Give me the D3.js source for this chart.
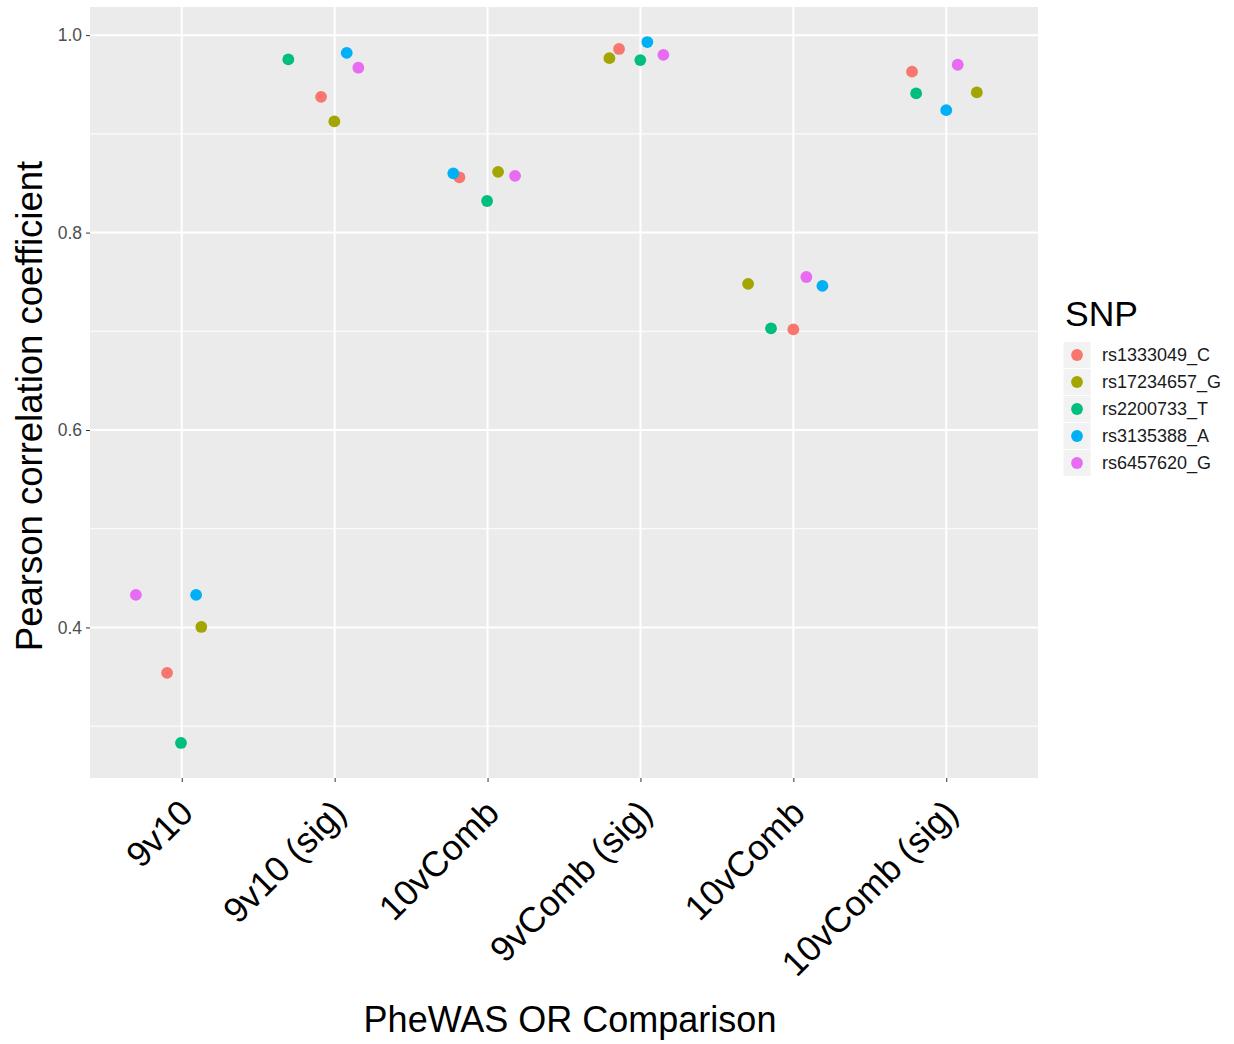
<!DOCTYPE html>
<html>
<head>
<meta charset="utf-8">
<script src="https://cdn.jsdelivr.net/npm/d3@7"></script>
<style>
  html, body { margin: 0; padding: 0; background: #fff; }
  svg { display: block; font-family: "Liberation Sans", Arial, Helvetica, sans-serif; }
</style>
</head>
<body>
<svg id="chart" width="1234" height="1044"></svg>
<script>
// Comparison categories along the x axis (two share the label "10vComb")
const categories = ["9v10", "9v10 (sig)", "10vComb", "9vComb (sig)", "10vComb", "10vComb (sig)"];

// SNPs and their colours (default ggplot hue palette)
const snps = ["rs1333049_C", "rs17234657_G", "rs2200733_T", "rs3135388_A", "rs6457620_G"];
const snpColors = ["#F8766D", "#A3A500", "#00BF7D", "#00B0F6", "#E76BF3"];

// Pearson correlation per SNP, one value per comparison
const rs1333049_C  = [0.354, 0.9375, 0.856, 0.986, 0.702, 0.963];
const rs17234657_G = [0.4005, 0.9126, 0.8615, 0.9767, 0.748, 0.942];
const rs2200733_T  = [0.283, 0.9754, 0.832, 0.9747, 0.703, 0.941];
const rs3135388_A  = [0.433, 0.982, 0.860, 0.993, 0.746, 0.924];
const rs6457620_G  = [0.433, 0.967, 0.8575, 0.980, 0.755, 0.970];

// Horizontal jitter of each point, in category units
const jit_rs1333049_C  = [-0.096, -0.089, -0.184, -0.14, 0.0, -0.224];
const jit_rs17234657_G = [0.128, -0.002, 0.069, -0.203, -0.296, 0.2];
const jit_rs2200733_T  = [-0.005, -0.303, -0.003, -0.001, -0.146, -0.197];
const jit_rs3135388_A  = [0.094, 0.079, -0.224, 0.045, 0.19, 0.0];
const jit_rs6457620_G  = [-0.30, 0.155, 0.18, 0.15, 0.085, 0.075];

const yTicks = [0.4, 0.6, 0.8, 1.0];
const yMinor = [0.3, 0.5, 0.7, 0.9];

const seriesValues = [rs1333049_C, rs17234657_G, rs2200733_T, rs3135388_A, rs6457620_G];
const seriesJitter = [jit_rs1333049_C, jit_rs17234657_G, jit_rs2200733_T, jit_rs3135388_A, jit_rs6457620_G];

const points = [];
snps.forEach((s, si) => {
  seriesValues[si].forEach((v, ci) => {
    points.push({ snp: s, cat: ci, value: v, jitter: seriesJitter[si][ci] });
  });
});

const panel = { left: 90, right: 1038, top: 7, bottom: 778 };

// ggplot-style expansion: 0.6 units on discrete x, 5% on continuous y
const x = d3.scaleLinear()
  .domain([-0.6, categories.length - 1 + 0.6])
  .range([panel.left, panel.right]);

const ext = d3.extent(points, d => d.value);
const pad = (ext[1] - ext[0]) * 0.05;
const y = d3.scaleLinear()
  .domain([ext[0] - pad, ext[1] + pad])
  .range([panel.bottom, panel.top]);

const color = d3.scaleOrdinal().domain(snps).range(snpColors);

const svg = d3.select("#chart");

// Panel background
svg.append("rect")
  .attr("x", panel.left).attr("y", panel.top)
  .attr("width", panel.right - panel.left)
  .attr("height", panel.bottom - panel.top)
  .attr("fill", "#EBEBEB");

const grid = svg.append("g");
// Minor horizontal grid
grid.selectAll("line.minor").data(yMinor).join("line")
  .attr("class", "minor")
  .attr("x1", panel.left).attr("x2", panel.right)
  .attr("y1", d => y(d)).attr("y2", d => y(d))
  .attr("stroke", "#fff").attr("stroke-width", 1);
// Major horizontal grid
grid.selectAll("line.majorY").data(yTicks).join("line")
  .attr("class", "majorY")
  .attr("x1", panel.left).attr("x2", panel.right)
  .attr("y1", d => y(d)).attr("y2", d => y(d))
  .attr("stroke", "#fff").attr("stroke-width", 2);
// Major vertical grid at each category
grid.selectAll("line.majorX").data(d3.range(categories.length)).join("line")
  .attr("class", "majorX")
  .attr("y1", panel.top).attr("y2", panel.bottom)
  .attr("x1", d => x(d)).attr("x2", d => x(d))
  .attr("stroke", "#fff").attr("stroke-width", 2);

// Y axis
const yAxis = svg.append("g")
  .attr("transform", `translate(${panel.left},0)`)
  .call(d3.axisLeft(y).tickValues(yTicks).tickFormat(d3.format(".1f")).tickSize(4).tickPadding(4));
yAxis.select(".domain").remove();
yAxis.selectAll(".tick line").attr("stroke", "#333").attr("stroke-width", 1);
yAxis.selectAll(".tick text")
  .attr("fill", "#4D4D4D")
  .style("font-size", "17.5px")
  .style("font-family", "'Liberation Sans', Arial, sans-serif");

// X axis with labels rotated 45 degrees, right-aligned under each tick
const xAxis = svg.append("g")
  .attr("transform", `translate(0,${panel.bottom})`)
  .call(d3.axisBottom(x).tickValues(d3.range(categories.length)).tickFormat(i => categories[i]).tickSize(4));
xAxis.select(".domain").remove();
xAxis.selectAll(".tick line").attr("stroke", "#333").attr("stroke-width", 1);
xAxis.selectAll(".tick text")
  .attr("fill", "#000")
  .style("font-size", "35.5px")
  .style("font-family", "'Liberation Sans', Arial, sans-serif")
  .attr("text-anchor", "end")
  .attr("x", 0).attr("y", 0)
  .attr("dy", "0.72em")
  .attr("transform", "translate(-5,19) rotate(-45)");

// Points
svg.append("g").selectAll("circle").data(points).join("circle")
  .attr("cx", d => x(d.cat + d.jitter))
  .attr("cy", d => y(d.value))
  .attr("r", 5.9)
  .attr("fill", d => color(d.snp));

// Axis titles
svg.append("text")
  .attr("x", 570).attr("y", 1032)
  .attr("text-anchor", "middle")
  .style("font-size", "36px")
  .attr("fill", "#000")
  .text("PheWAS OR Comparison");

svg.append("text")
  .attr("transform", "translate(42,406) rotate(-90)")
  .attr("text-anchor", "middle")
  .style("font-size", "36.5px")
  .attr("fill", "#000")
  .text("Pearson correlation coefficient");

// Legend
const legend = svg.append("g").attr("transform", "translate(1063,0)");
legend.append("text")
  .attr("x", 2).attr("y", 326)
  .style("font-size", "35.5px")
  .attr("fill", "#000")
  .text("SNP");
const keySize = 27;
const rows = legend.selectAll("g.key").data(snps).join("g")
  .attr("class", "key")
  .attr("transform", (d, i) => `translate(0,${341.5 + i * keySize})`);
rows.append("rect")
  .attr("width", 28).attr("height", keySize)
  .attr("fill", "#F2F2F2").attr("stroke", "#fff").attr("stroke-width", 1);
rows.append("circle")
  .attr("cx", 14).attr("cy", keySize / 2)
  .attr("r", 5.9)
  .attr("fill", d => color(d));
rows.append("text")
  .attr("x", 39).attr("y", keySize / 2)
  .attr("dy", "0.35em")
  .style("font-size", "18px")
  .attr("fill", "#1A1A1A")
  .text(d => d);
</script>
</body>
</html>
